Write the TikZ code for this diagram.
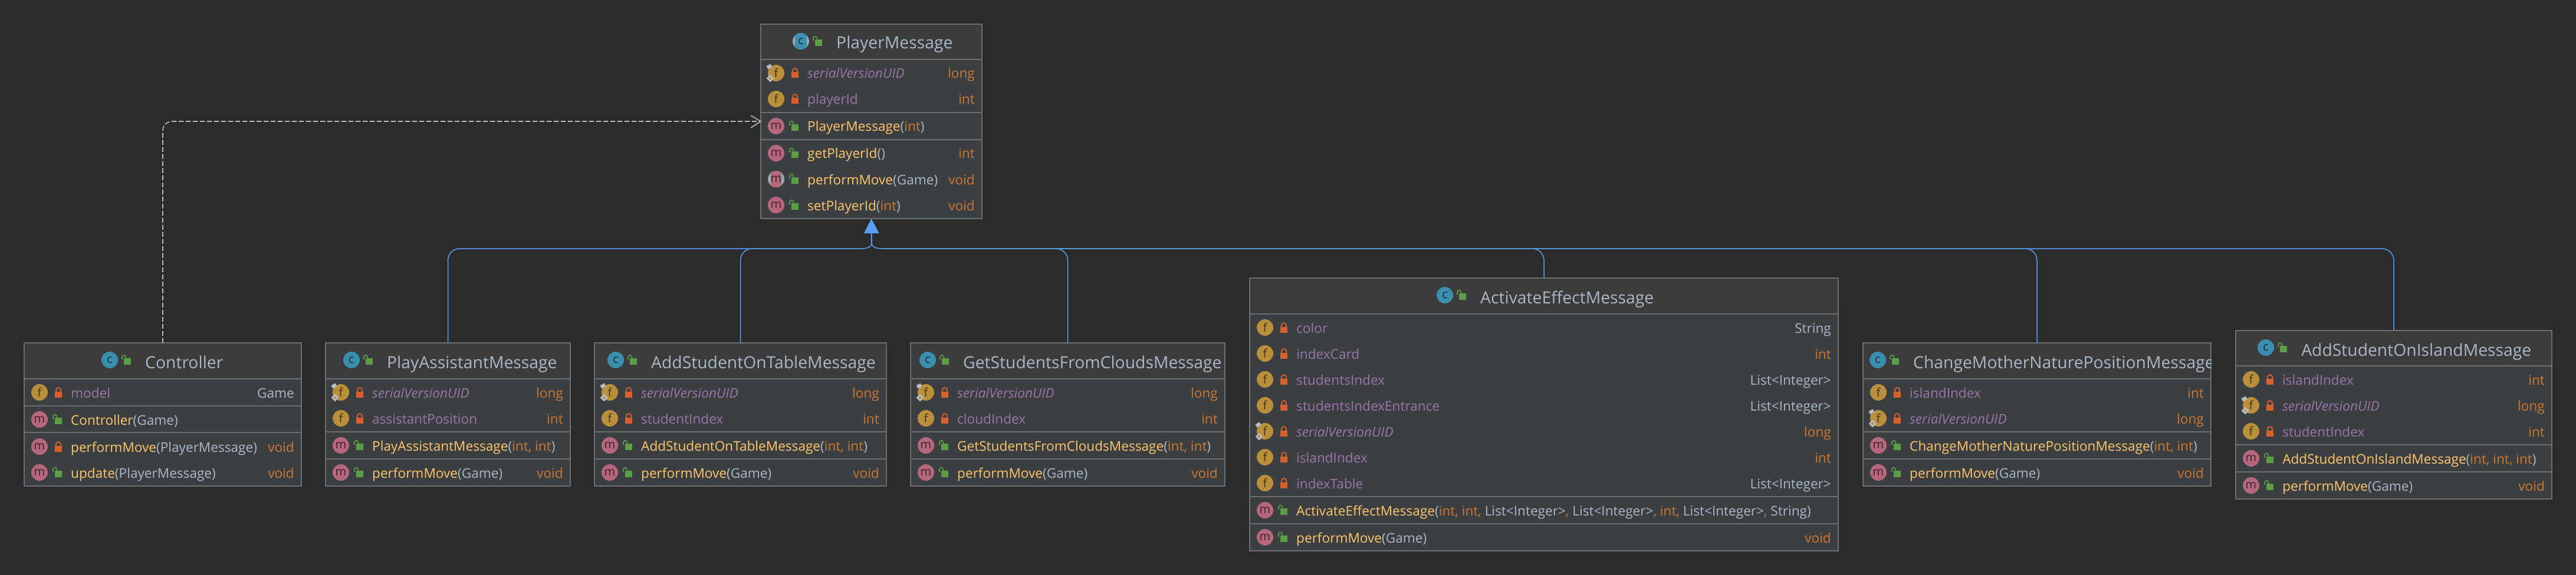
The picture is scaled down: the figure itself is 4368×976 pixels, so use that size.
\documentclass[tikz,border=0pt]{standalone}
\usepackage{fontspec}
\setmainfont{Open Sans}
\usetikzlibrary{arrows.meta}

\definecolor{bgdark}{HTML}{2B2B2B}
\definecolor{rowfill}{HTML}{3C3F41}
\definecolor{headfill}{HTML}{3C3C3C}
\definecolor{boxline}{HTML}{6E6E6E}
\definecolor{plaintxt}{HTML}{A9B7C6}
\definecolor{fieldname}{HTML}{9876AA}
\definecolor{kwcolor}{HTML}{CC7832}
\definecolor{methname}{HTML}{FFC66D}
\definecolor{fieldicn}{HTML}{B98F3B}
\definecolor{methicn}{HTML}{B5677E}
\definecolor{classicn}{HTML}{3A8FAE}
\definecolor{abstractgrey}{HTML}{9AA7B0}
\definecolor{lockred}{HTML}{D9602C}
\definecolor{lockgreen}{HTML}{5B9E47}
\definecolor{pinpale}{HTML}{B9BCBF}
\definecolor{inheritblue}{HTML}{589DF6}
\definecolor{depgrey}{HTML}{B8B8B8}

\newcommand{\rowfont}{\fontsize{22.6}{26}\selectfont}
\newcommand{\headfont}{\fontsize{28.3}{32}\selectfont}
\newcommand{\iconfont}{\fontsize{20}{22}\selectfont}

\tikzset{
  classbox/.style={draw=boxline, fill=rowfill, line width=1.8pt, inner sep=0pt, outer sep=0pt},
  rowicon/.style={circle, inner sep=0pt, minimum size=28pt, font=\iconfont},
  fieldicon/.style={rowicon, fill=fieldicn, text=fieldicn!35!black},
  methicon/.style={rowicon, fill=methicn, text=methicn!35!black},
  classicon/.style={rowicon, fill=classicn, text=classicn!30!black},
  rowtext/.style={anchor=base west, inner sep=0pt, font=\rowfont, text=plaintxt},
  typetext/.style={anchor=base east, inner sep=0pt, font=\rowfont, text=plaintxt},
  headtext/.style={anchor=base west, inner sep=0pt, font=\headfont, text=plaintxt},
  inheritline/.style={draw=inheritblue, line width=1.5pt},
  depline/.style={draw=depgrey, line width=1.6pt, dash pattern=on 8.5pt off 3.5pt},
}

% lock icons
\newcommand{\lockclosed}[2]{
  \fill[lockred] (#1-6.3,#2-1.5) rectangle (#1+6.3,#2+8.5);
  \draw[lockred, line width=1.8pt] (#1-4,#2-1) -- (#1-4,#2-4) arc (180:0:4pt) -- (#1+4,#2-1);
}
\newcommand{\lockopen}[2]{
  \fill[lockgreen] (#1-6.3,#2-3) rectangle (#1+6.3,#2+8);
  \draw[lockgreen, line width=1.6pt] (#1-9,#2-1) -- (#1-9,#2-5) arc (180:0:3.2pt) -- (#1-2.6,#2-3);
}

% box with its title bar
\newcommand{\classbox}[6]{
  \def\cn{#1}\def\boxl{#2}\def\boxr{#4}\def\boxt{#3}\def\boxh{#6}
  \node[classbox, minimum width={#4-#2}, minimum height={#5-#3}] (#1) at ({(#2+#4)/2},{(#3+#5)/2}) {};
  \fill[headfill] (#2+1,#3+1) rectangle (#4-1,#6);
  \boxsep{#6}
}
\newcommand{\boxsep}[1]{
  \draw[boxline, line width=1.8pt] (\boxl,#1) -- (\boxr,#1);
}
\newcommand{\classtitle}[2]{
  \node[classicon] (\cn-icon) at (#1-60,\boxt+29) {c};
  \lockopen{#1-30}{\boxt+29}
  \begin{scope}
    \clip (\boxl,\boxt) rectangle (\boxr,\boxh);
    \node[headtext] (\cn-title) at (#1,\boxt+43) {#2};
  \end{scope}
}

% rows
\newcommand{\fieldrow}[3]{
  \node[fieldicon] (\cn-#1-icon) at (\boxl+26,#1) {f};
  \lockclosed{\boxl+58}{#1}
  \node[rowtext, text=fieldname] (\cn-#1-name) at (\boxl+79,#1+9) {#2};
  \node[typetext] (\cn-#1-type) at (\boxr-12,#1+9) {#3};
}
\newcommand{\serialrow}[1]{
  \fieldrow{#1}{\itshape serialVersionUID}{\kw{long}}
  \draw[pinpale, line width=6pt] (\boxl+11,#1-9) -- (\boxl+18,#1-13);
  \fill[pinpale] (\boxl+9.5,#1+9) -- (\boxl+16,#1+2.5) -- (\boxl+22.5,#1+9) -- (\boxl+16,#1+15.5) -- cycle;
  \fill[fieldicn] (\boxl+16,#1+9) circle (2.2pt);
}
\newcommand{\methodrow}[5]{
  \node[methicon] (\cn-#1-icon) at (\boxl+26,#1) {m};
  #2{\boxl+58}{#1}
  \node[rowtext] (\cn-#1-name) at (\boxl+79,#1+9) {\textcolor{methname}{#3}#4};
  \node[typetext] (\cn-#1-type) at (\boxr-12,#1+9) {#5};
}

% coloured words
\newcommand{\kw}[1]{\textcolor{kwcolor}{#1}}
\newcommand{\kwint}{\kw{int}}
\newcommand{\kwc}{\kw{,} }
\newcommand{\listint}{List<Integer>}

\begin{document}
\begin{tikzpicture}[x=1pt, y=-1pt]
  \useasboundingbox (0,0) rectangle (4368,976);
  \fill[bgdark] (0,0) rectangle (4368,976);

  % PlayerMessage
  \classbox{player}{1290}{41}{1665}{371}{101}
  \boxsep{191}
  \boxsep{237}
  \fill[abstractgrey] (1358,70) circle (14pt);
  \begin{scope}
    \clip (1358,70) circle (14pt);
    \fill[classicn] (1348,50) rectangle (1368,90);
  \end{scope}
  \node[rowicon, text=classicn!30!black] (player-icon) at (1358,70) {c};
  \lockopen{1388}{70}
  \node[headtext] (player-title) at (1418,83) {PlayerMessage};
  \serialrow{124}
  \fieldrow{168}{playerId}{\kwint}
  \methodrow{214}{\lockopen}{PlayerMessage}{(\kwint)}{}
  \methodrow{260}{\lockopen}{getPlayerId}{()}{\kwint}
  \fill[abstractgrey] (1316,304) circle (14pt);
  \begin{scope}
    \clip (1316,304) circle (14pt);
    \fill[methicn] (1307,285) rectangle (1325,323);
  \end{scope}
  \node[rowicon, text=methicn!35!black] (player-304-icon) at (1316,304) {m};
  \lockopen{1348}{304}
  \node[rowtext] (player-304-name) at (1369,313) {\textcolor{methname}{performMove}(Game)};
  \node[typetext] (player-304-type) at (1653,313) {\kw{void}};
  \methodrow{348}{\lockopen}{setPlayerId}{(\kwint)}{\kw{void}}

  % Controller
  \classbox{ctrl}{41}{582}{511}{825}{643}
  \boxsep{689}
  \boxsep{734}
  \classtitle{246}{Controller}
  \fieldrow{666}{model}{Game}
  \methodrow{712}{\lockopen}{Controller}{(Game)}{}
  \methodrow{758}{\lockclosed}{performMove}{(PlayerMessage)}{\kw{void}}
  \methodrow{802}{\lockopen}{update}{(PlayerMessage)}{\kw{void}}

  % PlayAssistantMessage
  \classbox{assist}{552}{582}{967}{825}{643}
  \boxsep{733}
  \boxsep{779}
  \classtitle{656}{PlayAssistantMessage}
  \serialrow{666}
  \fieldrow{710}{assistantPosition}{\kwint}
  \methodrow{756}{\lockopen}{PlayAssistantMessage}{(\kwint\kwc\kwint)}{}
  \methodrow{802}{\lockopen}{performMove}{(Game)}{\kw{void}}

  % AddStudentOnTableMessage
  \classbox{table}{1008}{582}{1503}{825}{643}
  \boxsep{733}
  \boxsep{779}
  \classtitle{1104}{AddStudentOnTableMessage}
  \serialrow{666}
  \fieldrow{710}{studentIndex}{\kwint}
  \methodrow{756}{\lockopen}{AddStudentOnTableMessage}{(\kwint\kwc\kwint)}{}
  \methodrow{802}{\lockopen}{performMove}{(Game)}{\kw{void}}

  % GetStudentsFromCloudsMessage
  \classbox{clouds}{1544}{582}{2077}{825}{643}
  \boxsep{733}
  \boxsep{779}
  \classtitle{1633}{GetStudentsFromCloudsMessage}
  \serialrow{666}
  \fieldrow{710}{cloudIndex}{\kwint}
  \methodrow{756}{\lockopen}{GetStudentsFromCloudsMessage}{(\kwint\kwc\kwint)}{}
  \methodrow{802}{\lockopen}{performMove}{(Game)}{\kw{void}}

  % ActivateEffectMessage
  \classbox{effect}{2119}{472}{3117}{935}{533}
  \boxsep{843}
  \boxsep{889}
  \classtitle{2510}{ActivateEffectMessage}
  \fieldrow{556}{color}{String}
  \fieldrow{600}{indexCard}{\kwint}
  \fieldrow{644}{studentsIndex}{\listint}
  \fieldrow{688}{studentsIndexEntrance}{\listint}
  \serialrow{732}
  \fieldrow{776}{islandIndex}{\kwint}
  \fieldrow{820}{indexTable}{\listint}
  \methodrow{866}{\lockopen}{ActivateEffectMessage}{(\kwint\kwc\kwint\kwc\listint\kwc\listint\kwc\kwint\kwc\listint\kwc String)}{}
  \methodrow{912}{\lockopen}{performMove}{(Game)}{\kw{void}}

  % ChangeMotherNaturePositionMessage
  \classbox{nature}{3159}{582}{3749}{825}{643}
  \boxsep{733}
  \boxsep{779}
  \classtitle{3244}{ChangeMotherNaturePositionMessage}
  \fieldrow{666}{islandIndex}{\kwint}
  \serialrow{710}
  \methodrow{756}{\lockopen}{ChangeMotherNaturePositionMessage}{(\kwint\kwc\kwint)}{}
  \methodrow{802}{\lockopen}{performMove}{(Game)}{\kw{void}}

  % AddStudentOnIslandMessage
  \classbox{island}{3791}{561}{4327}{847}{621}
  \boxsep{755}
  \boxsep{801}
  \classtitle{3902}{AddStudentOnIslandMessage}
  \fieldrow{644}{islandIndex}{\kwint}
  \serialrow{688}
  \fieldrow{732}{studentIndex}{\kwint}
  \methodrow{778}{\lockopen}{AddStudentOnIslandMessage}{(\kwint\kwc\kwint\kwc\kwint)}{}
  \methodrow{824}{\lockopen}{performMove}{(Game)}{\kw{void}}

  % Dependency
  \coordinate (depend) at (1290,206);
  \draw[depline, rounded corners=16pt] (ctrl.north) |- (depend);
  \draw[depgrey, line width=1.6pt] (1273,196) -- (depend) -- (1273,217);

  % Inheritance
  \coordinate (hubleft) at (1460,422);
  \coordinate (hubright) at (1496,422);
  \coordinate (hubstem) at (1478,412);
  \draw[inheritline, rounded corners=20pt] (assist.north) |- (hubleft);
  \draw[inheritline, rounded corners=20pt] (table.north) |- (hubleft);
  \draw[inheritline, rounded corners=20pt] (clouds.north) |- (hubright);
  \draw[inheritline, rounded corners=20pt] (effect.north) |- (hubright);
  \draw[inheritline, rounded corners=20pt] (nature.north) |- (hubright);
  \draw[inheritline, rounded corners=20pt] (island.north) |- (hubright);
  \draw[inheritline] (hubleft) .. controls (1471,422) and (1478,419) .. (hubstem);
  \draw[inheritline] (hubright) .. controls (1485,422) and (1478,419) .. (hubstem);
  \draw[inheritline, line width=2pt, -{Triangle[length=25pt, width=25pt, inheritblue]}] (hubstem) -- (player.south);
\end{tikzpicture}
\end{document}
